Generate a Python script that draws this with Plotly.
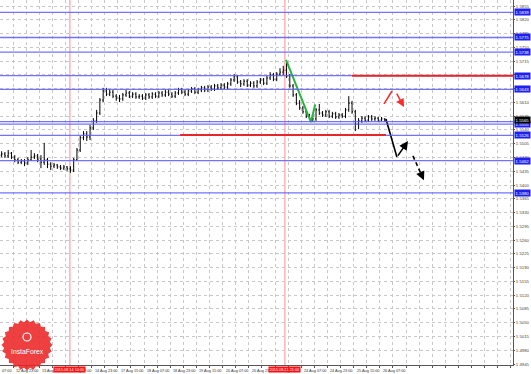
import numpy as np
import plotly.graph_objects as go

# ---------------- data (prices) ----------------
first_open = 1.5476
close = [1.5479, 1.5474, 1.5481, 1.5471, 1.5464, 1.5458, 1.5461, 1.5456, 1.5464, 1.5471,
         1.5474, 1.5466, 1.5458, 1.5464, 1.5453, 1.5448, 1.5451, 1.5446, 1.5443, 1.5446,
         1.5441, 1.5438, 1.5464, 1.5489, 1.5520, 1.5530, 1.5522, 1.5545, 1.5563, 1.5583,
         1.5616, 1.5639, 1.5631, 1.5636, 1.5626, 1.5621, 1.5619, 1.5629, 1.5634, 1.5626,
         1.5631, 1.5624, 1.5626, 1.5621, 1.5629, 1.5624, 1.5631, 1.5626, 1.5634, 1.5629,
         1.5636, 1.5631, 1.5626, 1.5634, 1.5642, 1.5636, 1.5631, 1.5639, 1.5644, 1.5636,
         1.5642, 1.5647, 1.5642, 1.5649, 1.5644, 1.5652, 1.5647, 1.5654, 1.5649, 1.5657,
         1.5667, 1.5675, 1.5662, 1.5657, 1.5664, 1.5654, 1.5659, 1.5652, 1.5662, 1.5667,
         1.5659, 1.5672, 1.5680, 1.5669, 1.5682, 1.5687, 1.5692, 1.5677, 1.5652, 1.5629,
         1.5608, 1.5596, 1.5586, 1.5575, 1.5570, 1.5568, 1.5591, 1.5583, 1.5578, 1.5586,
         1.5575, 1.5581, 1.5573, 1.5578, 1.5575, 1.5591, 1.5608, 1.5586, 1.5555, 1.5563,
         1.5570, 1.5565, 1.5573, 1.5568, 1.5570, 1.5565, 1.5568, 1.5565]
high = [1.5486, 1.5484, 1.5489, 1.5484, 1.5476, 1.5469, 1.5466, 1.5466, 1.5471, 1.5489,
        1.5481, 1.5479, 1.5476, 1.5507, 1.5469, 1.5458, 1.5456, 1.5453, 1.5451, 1.5451,
        1.5448, 1.5448, 1.5469, 1.5494, 1.5525, 1.5537, 1.5537, 1.5553, 1.5570, 1.5591,
        1.5621, 1.5647, 1.5647, 1.5644, 1.5642, 1.5631, 1.5629, 1.5634, 1.5642, 1.5639,
        1.5636, 1.5636, 1.5631, 1.5631, 1.5634, 1.5634, 1.5636, 1.5636, 1.5639, 1.5639,
        1.5642, 1.5642, 1.5636, 1.5639, 1.5647, 1.5647, 1.5642, 1.5644, 1.5649, 1.5649,
        1.5647, 1.5652, 1.5652, 1.5654, 1.5654, 1.5657, 1.5657, 1.5659, 1.5659, 1.5662,
        1.5672, 1.5682, 1.5680, 1.5667, 1.5669, 1.5669, 1.5664, 1.5664, 1.5667, 1.5672,
        1.5672, 1.5677, 1.5687, 1.5685, 1.5687, 1.5697, 1.5703, 1.5713, 1.5682, 1.5657,
        1.5634, 1.5616, 1.5601, 1.5591, 1.5581, 1.5578, 1.5596, 1.5606, 1.5588, 1.5591,
        1.5591, 1.5586, 1.5586, 1.5583, 1.5583, 1.5596, 1.5626, 1.5614, 1.5591, 1.5570,
        1.5575, 1.5575, 1.5578, 1.5578, 1.5575, 1.5573, 1.5573, 1.5570]
low = [1.5471, 1.5469, 1.5469, 1.5466, 1.5458, 1.5453, 1.5453, 1.5448, 1.5451, 1.5461,
       1.5466, 1.5458, 1.5443, 1.5451, 1.5443, 1.5438, 1.5443, 1.5441, 1.5438, 1.5438,
       1.5436, 1.5431, 1.5433, 1.5461, 1.5484, 1.5514, 1.5512, 1.5514, 1.5540, 1.5558,
       1.5578, 1.5611, 1.5626, 1.5626, 1.5621, 1.5614, 1.5611, 1.5614, 1.5624, 1.5621,
       1.5621, 1.5619, 1.5619, 1.5616, 1.5616, 1.5619, 1.5619, 1.5621, 1.5621, 1.5624,
       1.5624, 1.5626, 1.5621, 1.5621, 1.5629, 1.5631, 1.5626, 1.5626, 1.5634, 1.5631,
       1.5631, 1.5636, 1.5636, 1.5636, 1.5639, 1.5639, 1.5642, 1.5642, 1.5644, 1.5644,
       1.5652, 1.5662, 1.5657, 1.5649, 1.5652, 1.5649, 1.5649, 1.5647, 1.5647, 1.5657,
       1.5654, 1.5654, 1.5667, 1.5664, 1.5664, 1.5677, 1.5680, 1.5672, 1.5647, 1.5624,
       1.5603, 1.5591, 1.5581, 1.5570, 1.5565, 1.5560, 1.5563, 1.5578, 1.5573, 1.5573,
       1.5570, 1.5570, 1.5568, 1.5568, 1.5570, 1.5570, 1.5586, 1.5581, 1.5537, 1.5542,
       1.5558, 1.5560, 1.5560, 1.5563, 1.5563, 1.5560, 1.5563, 1.5560]

hours_per_bar = 2
time_labels = ["12 Aug 23:00", "13 Aug 15:00", "14 Aug 07:00", "14 Aug 23:00",
               "17 Aug 15:00", "18 Aug 07:00", "18 Aug 23:00", "19 Aug 15:00",
               "20 Aug 07:00", "20 Aug 23:00", "21 Aug 15:00", "24 Aug 07:00",
               "24 Aug 23:00", "25 Aug 15:00", "26 Aug 07:00"]
time_label_hours = [8 + 16 * k for k in range(len(time_labels))]
partial_label = "07:00"

separator_hours = [42.7, 174.0]
separator_labels = ["2015.08.14 10:00", "2015.08.21 21:00"]

blue_levels = [1.5839, 1.5775, 1.5738, 1.5678, 1.5643, 1.5561, 1.5555, 1.5526, 1.5462, 1.5380]
blue_label_levels = [1.5839, 1.5775, 1.5738, 1.5678, 1.5643, 1.5555, 1.5526, 1.5462, 1.5380]
red_levels = [1.5678, 1.5527]
red_starts = [215.0, 110.0]
red_ends = [313.3, 235.7]

green_h = [174.7, 189.9, 192.5]
green_p = [1.5718, 1.5560, 1.5605]

red_up_h, red_up_p = [234.5, 239.4], [1.5606, 1.5639]
red_dn_h, red_dn_p = [241.8, 246.7], [1.5636, 1.5598]
blk_h = [235.7, 242.4, 249.2]
blk_p = [1.5568, 1.5471, 1.5512]
dash_h, dash_p = [252.2, 258.9], [1.5474, 1.5412]

y_min, y_max = 1.49425, 1.58703
x_min, x_max = 0.0, 313.3
y_tick_start, y_tick_step, y_tick_count = 1.4945, 0.0035, 27

# ---------------- figure ----------------
bar_x = [hours_per_bar * i + 1 for i in range(len(close))]
opens = [first_open] + close[:-1]

fig = go.Figure()
fig.add_trace(go.Ohlc(
    x=bar_x, open=opens, high=high, low=low, close=close,
    increasing=dict(line=dict(color="black", width=1)),
    decreasing=dict(line=dict(color="black", width=1)),
    tickwidth=0.3, hoverinfo="skip", showlegend=False))

FONT = "Liberation Sans"
shapes = []
annotations = []

for lv in blue_levels:
    shapes.append(dict(type="line", xref="paper", x0=0, x1=1, yref="y", y0=lv, y1=lv,
                       line=dict(color="rgba(90,90,255,0.85)", width=1.3), layer="above"))
for lv, s, e in zip(red_levels, red_starts, red_ends):
    shapes.append(dict(type="line", xref="x", x0=s, x1=e, yref="y", y0=lv, y1=lv,
                       line=dict(color="#e8252a", width=2), layer="above"))
for h in separator_hours:
    shapes.append(dict(type="line", xref="x", x0=h, x1=h, yref="paper", y0=0, y1=1,
                       line=dict(color="rgba(255,110,110,0.8)", width=1), layer="below"))

fig.add_trace(go.Scatter(x=green_h, y=green_p, mode="lines",
                         line=dict(color="#27b43c", width=2), hoverinfo="skip", showlegend=False))
fig.add_trace(go.Scatter(x=red_up_h, y=red_up_p, mode="lines",
                         line=dict(color="#ff2a2a", width=1.5), hoverinfo="skip", showlegend=False))
fig.add_trace(go.Scatter(x=blk_h[:2], y=blk_p[:2], mode="lines",
                         line=dict(color="black", width=1.6), hoverinfo="skip", showlegend=False))
fig.add_trace(go.Scatter(x=dash_h, y=dash_p, mode="lines",
                         line=dict(color="black", width=1.6, dash="4px,3px"),
                         hoverinfo="skip", showlegend=False))

annotations.append(dict(x=red_dn_h[1], y=red_dn_p[1], ax=red_dn_h[0], ay=red_dn_p[0],
                        xref="x", yref="y", axref="x", ayref="y", text="", showarrow=True,
                        arrowhead=2, arrowsize=1.1, arrowwidth=1.5, arrowcolor="#ff2a2a"))
annotations.append(dict(x=blk_h[2], y=blk_p[2], ax=blk_h[1], ay=blk_p[1],
                        xref="x", yref="y", axref="x", ayref="y", text="", showarrow=True,
                        arrowhead=2, arrowsize=1.1, arrowwidth=1.6, arrowcolor="black"))
annotations.append(dict(x=dash_h[1], y=dash_p[1],
                        ax=dash_h[1] - 0.15 * (dash_h[1] - dash_h[0]),
                        ay=dash_p[1] - 0.15 * (dash_p[1] - dash_p[0]),
                        xref="x", yref="y", axref="x", ayref="y", text="", showarrow=True,
                        arrowhead=2, arrowsize=1.1, arrowwidth=1.6, arrowcolor="black"))

LBL = 4.3
for lv in blue_label_levels:
    annotations.append(dict(xref="paper", x=1, xanchor="left", xshift=1, yref="y", y=lv,
                            yanchor="middle", text=f"{lv:.4f}", showarrow=False,
                            bgcolor="#1f1ff2", borderpad=0.6,
                            font=dict(color="white", size=LBL, family=FONT)))
annotations.append(dict(xref="paper", x=1, xanchor="left", xshift=1, yref="y", y=close[-1],
                        yanchor="middle", text=f"{close[-1]:.4f}", showarrow=False,
                        bgcolor="black", borderpad=0.6,
                        font=dict(color="white", size=LBL, family=FONT)))

TL = 3.8
annotations.append(dict(xref="paper", x=0, xanchor="left", yref="paper", y=0, yanchor="top",
                        yshift=-1.5, text=partial_label, showarrow=False,
                        font=dict(color="#333", size=TL, family=FONT)))
for h, t in zip(time_label_hours, time_labels):
    annotations.append(dict(xref="x", x=h, xanchor="left", xshift=1, yref="paper", y=0,
                            yanchor="top", yshift=-1.5, text=t, showarrow=False,
                            font=dict(color="#333", size=TL, family=FONT)))
for h, t in zip(separator_hours, separator_labels):
    annotations.append(dict(xref="x", x=h, xanchor="center", yref="paper", y=0,
                            yanchor="top", yshift=-1, text=t, showarrow=False,
                            bgcolor="#ff1010", borderpad=0.6,
                            font=dict(color="white", size=TL, family=FONT)))

# InstaForex badge (decorative)
W_PX, H_PX = 513.0, 365.0
cx, cy, r_out, r_in, n_teeth = 27.0, 345.0, 25.5, 23.0, 24
ang = np.linspace(0, 2 * np.pi, 2 * n_teeth, endpoint=False)
rad = np.where(np.arange(2 * n_teeth) % 2 == 0, r_out, r_in)
px = (cx + rad * np.cos(ang)) / W_PX
py = (H_PX - (cy + rad * np.sin(ang))) / H_PX
path = "M " + " L ".join(f"{a:.5f},{b:.5f}" for a, b in zip(px, py)) + " Z"
shapes.append(dict(type="path", xref="paper", yref="paper", path=path,
                   fillcolor="rgba(236,38,38,0.88)", line=dict(width=0), layer="above"))
shapes.append(dict(type="circle", xref="paper", yref="paper",
                   x0=(cx - 4) / W_PX, x1=(cx + 4) / W_PX,
                   y0=(H_PX - 341) / H_PX, y1=(H_PX - 333) / H_PX,
                   line=dict(color="white", width=1.2), layer="above"))
annotations.append(dict(xref="paper", yref="paper", x=cx / W_PX, y=(H_PX - 351) / H_PX,
                        xanchor="center", yanchor="middle",
                        text="InstaForex", showarrow=False,
                        font=dict(color="white", size=6.8, family=FONT)))

fig.update_layout(
    width=531, height=374,
    margin=dict(l=0, r=18, t=0, b=9, autoexpand=False),
    paper_bgcolor="white", plot_bgcolor="white",
    showlegend=False, shapes=shapes, annotations=annotations,
    font=dict(family=FONT, size=LBL, color="#333"),
    xaxis=dict(range=[x_min, x_max], rangeslider=dict(visible=False),
               tickvals=list(np.arange(8, x_max, 8)), showticklabels=False,
               ticks="outside", ticklen=2, tickcolor="#555",
               showgrid=True, gridcolor="#c8c8c8", griddash="dot", gridwidth=1,
               showline=True, linecolor="#555", linewidth=1, zeroline=False,
               automargin=False, fixedrange=True),
    yaxis=dict(range=[y_min, y_max], side="right",
               tickvals=[round(y_tick_start + y_tick_step * k, 4) for k in range(y_tick_count)],
               tickformat=".4f", ticks="outside", ticklen=1, tickcolor="#555",
               tickfont=dict(size=LBL, color="#444", family=FONT),
               showgrid=True, gridcolor="#c8c8c8", griddash="dot", gridwidth=1,
               showline=True, linecolor="#555", linewidth=1, zeroline=False,
               automargin=False, fixedrange=True),
)

fig.write_html("out.html")
